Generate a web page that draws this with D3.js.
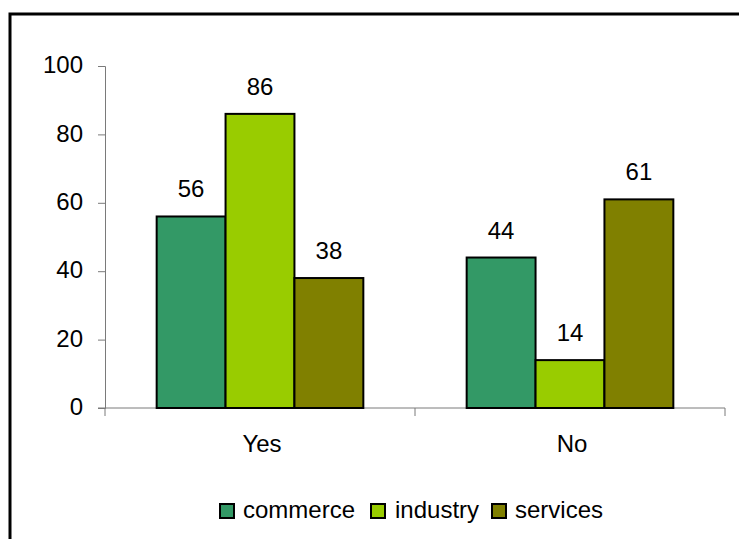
<!DOCTYPE html>
<html>
<head>
<meta charset="utf-8">
<script src="https://cdn.jsdelivr.net/npm/d3@7"></script>
<style>
  html, body { margin: 0; padding: 0; background: #fff; }
  svg { display: block; font-family: Arial, "Liberation Sans", sans-serif; }
</style>
</head>
<body>
<svg id="chart" width="739" height="539"></svg>
<script>
// Survey answers by sector (percent)
const categories = ["Yes", "No"];
const seriesNames = ["commerce", "industry", "services"];
const commerce = [56, 44];
const industry = [86, 14];
const services = [38, 61];
const yTicks = [0, 20, 40, 60, 80, 100];
const colors = ["#339966", "#99cc00", "#808000"];

const seriesValues = [commerce, industry, services];
const svg = d3.select("#chart");
const fontSize = 24;

// Outer frame
svg.append("rect")
  .attr("x", 10).attr("y", 14)
  .attr("width", 760).attr("height", 560)
  .attr("fill", "none").attr("stroke", "#000").attr("stroke-width", 3);

const plot = { left: 105, right: 725, top: 66, bottom: 408 };

const x0 = d3.scaleBand().domain(categories).range([plot.left, plot.right]);
const x1 = d3.scaleBand().domain(seriesNames).range([0, x0.bandwidth()])
  .paddingInner(0).paddingOuter(0.75);
const y = d3.scaleLinear().domain([0, 100]).range([plot.bottom, plot.top]);

const axisColor = "#7a7a7a";

// Y axis
const yAxis = svg.append("g")
  .attr("transform", `translate(${plot.left},0)`)
  .call(d3.axisLeft(y).tickValues(yTicks).tickSize(7).tickPadding(15));
yAxis.select(".domain").attr("stroke", axisColor);
yAxis.selectAll(".tick line").attr("stroke", axisColor);
yAxis.selectAll(".tick text").attr("font-size", fontSize).attr("fill", "#000")
  .attr("dy", "0.28em")
  .attr("font-family", "Arial, 'Liberation Sans', sans-serif");

// X axis with ticks at category boundaries
const boundaries = [plot.left, ...categories.slice(1).map(c => x0(c)), plot.right];
const xg = svg.append("g");
xg.append("line")
  .attr("x1", plot.left - 7).attr("x2", plot.right)
  .attr("y1", y(0)).attr("y2", y(0))
  .attr("stroke", axisColor);
xg.selectAll("line.bt").data(boundaries).join("line")
  .attr("class", "bt")
  .attr("x1", d => d).attr("x2", d => d)
  .attr("y1", y(0)).attr("y2", y(0) + 8)
  .attr("stroke", axisColor);
xg.selectAll("text").data(categories).join("text")
  .attr("x", d => x0(d) + x0.bandwidth() / 2 + 2)
  .attr("y", 452)
  .attr("text-anchor", "middle")
  .attr("font-size", fontSize)
  .text(d => d);

// Bars
const groups = svg.selectAll("g.grp").data(categories).join("g")
  .attr("class", "grp")
  .attr("transform", d => `translate(${x0(d)},0)`);

groups.each(function (cat, ci) {
  const g = d3.select(this);
  const rows = seriesNames.map((s, si) => ({ s, si, v: seriesValues[si][ci] }));
  g.selectAll("rect").data(rows).join("rect")
    .attr("x", d => x1(d.s))
    .attr("y", d => y(d.v))
    .attr("width", x1.bandwidth())
    .attr("height", d => y(0) - y(d.v))
    .attr("fill", d => colors[d.si])
    .attr("stroke", "#000").attr("stroke-width", 2);
  g.selectAll("text").data(rows).join("text")
    .attr("x", d => x1(d.s) + x1.bandwidth() / 2)
    .attr("y", d => y(d.v) - 19)
    .attr("text-anchor", "middle")
    .attr("font-size", fontSize)
    .text(d => d.v);
});

// Legend
const legendItems = [
  { name: "commerce", sx: 220, tx: 243 },
  { name: "industry", sx: 371, tx: 395 },
  { name: "services", sx: 492, tx: 515 }
];
const lg = svg.append("g");
lg.selectAll("rect").data(legendItems).join("rect")
  .attr("x", d => d.sx).attr("y", 504)
  .attr("width", 14).attr("height", 14)
  .attr("fill", (d, i) => colors[i])
  .attr("stroke", "#000").attr("stroke-width", 2);
lg.selectAll("text").data(legendItems).join("text")
  .attr("x", d => d.tx).attr("y", 518)
  .attr("font-size", fontSize)
  .text(d => d.name);
</script>
</body>
</html>
